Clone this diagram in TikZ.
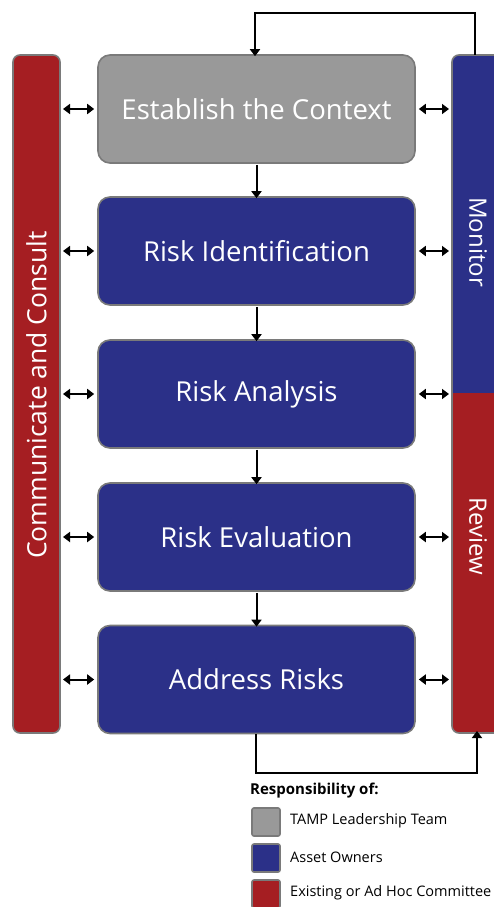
\documentclass[tikz,border=0pt]{standalone}
\usepackage{fontspec}
\setmainfont{Open Sans}
\usetikzlibrary{arrows.meta}
\definecolor{cgray}{HTML}{999999}
\definecolor{cblue}{HTML}{2B3088}
\definecolor{cred}{HTML}{A51E22}
\definecolor{cedge}{HTML}{7A7A7A}
\begin{document}
\begin{tikzpicture}[x=1pt,y=-1pt,
  stage/.style={draw=cedge,line width=1.6pt,rounded corners=12pt,minimum width=317pt,minimum height=108pt,text=white,font=\fontsize{27.5}{30}\selectfont,inner sep=0pt},
  bar/.style={draw=cedge,line width=1.6pt,rounded corners=7pt},
  conn/.style={line width=2pt,-{Triangle[length=7pt,width=10pt]}},
  dbl/.style={line width=2pt,{Triangle[length=7pt,width=10pt]}-{Triangle[length=7pt,width=10pt]}},
  legbox/.style={draw=cedge,line width=1.6pt,rounded corners=2pt,minimum size=28pt,inner sep=0pt},
  legtxt/.style={anchor=west,font=\fontsize{14.5}{16}\selectfont,inner sep=0pt}]
\useasboundingbox (0,0) rectangle (493,907);
\fill[white] (0,0) rectangle (493,907);
% left bar
\draw[bar,fill=cred] (13,55) rectangle (60,733);
\node[rotate=90,text=white,font=\fontsize{26.5}{30}\selectfont] (cc) at (36.5,395) {Communicate and Consult};
% right bar
\begin{scope}
\clip[rounded corners=7pt] (452,55) rectangle (510,733);
\fill[cblue] (452,55) rectangle (510,393);
\fill[cred] (452,393) rectangle (510,733);
\end{scope}
\draw[bar] (452,55) rectangle (510,733);
\node[rotate=-90,text=white,font=\fontsize{24}{28}\selectfont] (mon) at (478,242) {Monitor};
\node[rotate=-90,text=white,font=\fontsize{24}{28}\selectfont] (rev) at (478,536) {Review};
\coordinate (rtop) at (475,55);
\coordinate (rbot) at (477,733);
\coordinate (lbar) at (60,0);
\coordinate (rbar) at (452,0);
% stages
\node[stage,fill=cgray] (s1) at (256.5,109) {Establish the Context};
\node[stage,fill=cblue] (s2) at (256.5,251) {Risk Identification};
\node[stage,fill=cblue] (s3) at (256.5,394) {Risk Analysis};
\node[stage,fill=cblue] (s4) at (256.5,537) {Risk Evaluation};
\node[stage,fill=cblue] (s5) at (256.5,679.5) {Address Risks};
\foreach \a/\b in {s1/s2,s2/s3,s3/s4,s4/s5}{
  \draw[conn] (\a.south) ++(0,1) -- ([yshift=-2pt]\b.north);
}
\foreach \s in {s1,s2,s3,s4,s5}{
  \draw[dbl] (\s.west -| lbar) ++(3,0) -- ([xshift=-3pt]\s.west);
  \draw[dbl] ([xshift=3pt]\s.east) -- ([xshift=-3pt]\s.east -| rbar);
}
% feedback loops
\draw[conn] (rtop) -- (475,13) -- (255,13) -- ([yshift=-2pt]s1.north -| 255,0);
\draw[conn] (s5.south -| 256,0) -- (256,773) -- (477,773) -- ([yshift=2pt]rbot);
% legend
\node[anchor=west,inner sep=0pt,font=\bfseries\fontsize{15}{17}\selectfont] (lt) at (250,791) {Responsibility of:};
\node[legbox,fill=cgray] (l1) at (266,822) {};
\node[legbox,fill=cblue] (l2) at (266,858) {};
\node[legbox,fill=cred] (l3) at (266,894) {};
\node[legtxt] (t1) at (290,821) {TAMP Leadership Team};
\node[legtxt] (t2) at (290,857) {Asset Owners};
\node[legtxt] (t3) at (290,893) {Existing or Ad Hoc Committee};
\end{tikzpicture}
\end{document}
